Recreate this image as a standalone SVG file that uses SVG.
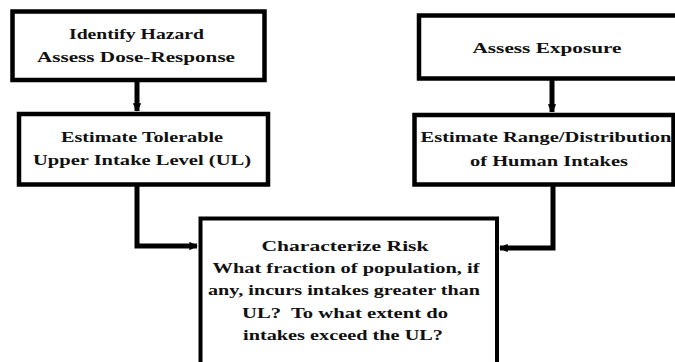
<svg xmlns="http://www.w3.org/2000/svg" width="675" height="362" viewBox="0 0 675 362">
<style>
.box{fill:#fff;stroke:#000;stroke-width:4.5}
.t{font-family:"Liberation Serif","DejaVu Serif",serif;font-weight:bold;font-size:15px;fill:#111;text-anchor:middle}
.c{fill:none;stroke:#000;stroke-width:5}
</style>
<defs>
<marker id="ah" viewBox="0 0 10 10" refX="9" refY="5" markerWidth="1.7" markerHeight="1.7" orient="auto" markerUnits="strokeWidth">
<path d="M0,0 L10,5 L0,10 z" fill="#000"/>
</marker>
</defs>
<rect width="675" height="362" fill="#fff"/>
<g id="connectors">
<path class="c" d="M137,82 V111" marker-end="url(#ah)"/>
<path class="c" d="M552,80 V112" marker-end="url(#ah)"/>
<path class="c" d="M137,186 V246 H197" marker-end="url(#ah)"/>
<path class="c" d="M553,186 V248 H500" marker-end="url(#ah)"/>
</g>
<g id="hazard">
<rect class="box" x="12.5" y="11.5" width="252" height="68.5"/>
<text class="t" x="136.5" y="39" textLength="135" lengthAdjust="spacingAndGlyphs">Identify Hazard</text>
<text class="t" x="136" y="62" textLength="198" lengthAdjust="spacingAndGlyphs">Assess Dose-Response</text>
</g>
<g id="ul">
<rect class="box" x="19" y="114" width="249" height="70.5"/>
<text class="t" x="142" y="142" textLength="162" lengthAdjust="spacingAndGlyphs">Estimate Tolerable</text>
<text class="t" x="142" y="165" textLength="218" lengthAdjust="spacingAndGlyphs">Upper Intake Level (UL)</text>
</g>
<g id="exposure">
<rect class="box" x="419" y="15.5" width="262" height="63"/>
<text class="t" x="547" y="53" textLength="149" lengthAdjust="spacingAndGlyphs">Assess Exposure</text>
</g>
<g id="intakes">
<rect class="box" x="414.5" y="115" width="259" height="69.5"/>
<text class="t" x="546" y="142" textLength="251" lengthAdjust="spacingAndGlyphs">Estimate Range/Distribution</text>
<text class="t" x="549" y="166" textLength="158" lengthAdjust="spacingAndGlyphs">of Human Intakes</text>
</g>
<g id="risk">
<rect class="box" x="200.5" y="218.5" width="296.5" height="160" style="stroke-width:4"/>
<text class="t" x="345" y="251" textLength="167" lengthAdjust="spacingAndGlyphs">Characterize Risk</text>
<text class="t" x="346" y="273" textLength="267" lengthAdjust="spacingAndGlyphs">What fraction of population, if</text>
<text class="t" x="344" y="295" textLength="272" lengthAdjust="spacingAndGlyphs">any, incurs intakes greater than</text>
<text class="t" x="345" y="318" textLength="206" lengthAdjust="spacingAndGlyphs" xml:space="preserve">UL?  To what extent do</text>
<text class="t" x="343" y="340" textLength="200" lengthAdjust="spacingAndGlyphs">intakes exceed the UL?</text>
</g>
</svg>
